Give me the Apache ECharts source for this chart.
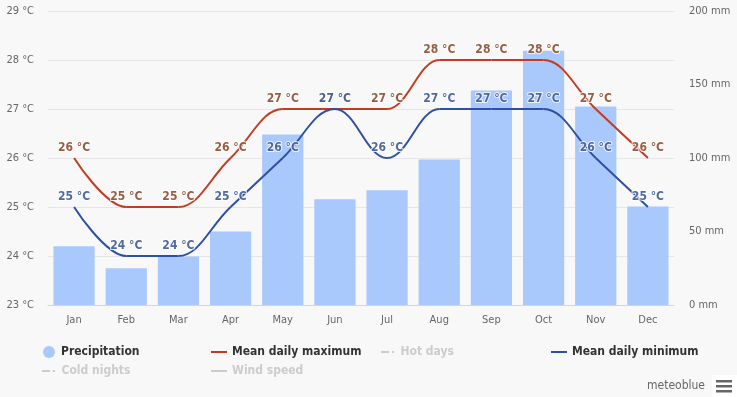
<!DOCTYPE html>
<html>
<head>
<meta charset="utf-8">
<script src="https://cdn.jsdelivr.net/npm/echarts@6/dist/echarts.min.js"></script>
<style>
html, body { margin: 0; padding: 0; background: #f8f8f8; }
#chartContainer { width: 737px; height: 397px; }
</style>
</head>
<body>
<div id="chartContainer"></div>
<script>
var months = ['Jan', 'Feb', 'Mar', 'Apr', 'May', 'Jun', 'Jul', 'Aug', 'Sep', 'Oct', 'Nov', 'Dec'];
var precipitation = [40, 25, 33, 50, 116, 72, 78, 99, 146, 173, 135, 67];
var maxTemp = [26, 25, 25, 26, 27, 27, 27, 28, 28, 28, 27, 26];
var minTemp = [25, 24, 24, 25, 26, 27, 26, 27, 27, 27, 26, 25];

var FONT = '"DejaVu Sans Condensed", "DejaVu Sans", sans-serif';
var RED = '#c23b22', BLUE = '#2d50a5';

// highcharts-like spline control points (no overshoot on flat parts)
function ctrl(p, i) {
	var x = p[i][0], y = p[i][1];
	if (i === 0 || i === p.length - 1) {
		return { lx: x, ly: y, rx: x, ry: y };
	}
	var s = 1.5, d = s + 1;
	var px = p[i - 1][0], py = p[i - 1][1], nx = p[i + 1][0], ny = p[i + 1][1];
	var lx = (s * x + px) / d, ly = (s * y + py) / d;
	var rx = (s * x + nx) / d, ry = (s * y + ny) / d;
	var c = 0;
	if (rx !== lx) {
		c = ((ry - ly) * (rx - x)) / (rx - lx) + y - ry;
	}
	ly += c; ry += c;
	if (ly > py && ly > y) { ly = Math.max(py, y); ry = 2 * y - ly; }
	else if (ly < py && ly < y) { ly = Math.min(py, y); ry = 2 * y - ly; }
	if (ry > ny && ry > y) { ry = Math.max(ny, y); ly = 2 * y - ry; }
	else if (ry < ny && ry < y) { ry = Math.min(ny, y); ly = 2 * y - ry; }
	return { lx: lx, ly: ly, rx: rx, ry: ry };
}

function splineRender(vals, color) {
	return function(params, api) {
		var i = params.dataIndex;
		if (i === 0) return;
		var p = vals.map(function(v, k) { return api.coord([k, v]); });
		var a = ctrl(p, i - 1), b = ctrl(p, i);
		return {
			type: 'bezierCurve',
			shape: {
				x1: p[i - 1][0], y1: p[i - 1][1], x2: p[i][0], y2: p[i][1],
				cpx1: a.rx, cpy1: a.ry, cpx2: b.lx, cpy2: b.ly
			},
			style: { stroke: color, lineWidth: 2, fill: 'none' }
		};
	};
}

function labelSeries(vals, color) {
	return {
		type: 'scatter',
		data: vals,
		symbolSize: 1,
		itemStyle: { color: 'rgba(0,0,0,0)' },
		z: 5,
		silent: true,
		label: {
			show: true,
			position: 'top',
			distance: 4,
			formatter: '{c} °C',
			color: color,
			fontFamily: FONT,
			fontWeight: 'bold',
			fontSize: 12,
			textBorderColor: '#fff',
			textBorderWidth: 2
		}
	};
}

function legendAt(name, left, top, icon, selected) {
	var lg = {
		data: [name],
		left: left,
		top: top,
		padding: 0,
		orient: 'horizontal',
		itemWidth: 16,
		itemHeight: 2,
		icon: icon,
		inactiveColor: '#cccccc',
		textStyle: { fontFamily: FONT, fontWeight: 'bold', fontSize: 12, color: '#333' }
	};
	if (selected === false) {
		lg.selected = {};
		lg.selected[name] = false;
	}
	return lg;
}

var dashDot = 'path://M0,0H8V2H0Z M11,0H13V2H11Z';

var precipLegend = legendAt('Precipitation', 43, 346, 'circle');
precipLegend.itemWidth = 14;
precipLegend.itemHeight = 12;

var option = {
	backgroundColor: '#f8f8f8',
	animation: false,
	grid: { left: 48, right: 63, top: 11, bottom: 92 },
	legend: [
		precipLegend,
		legendAt('Mean daily maximum', 211, 346, 'rect'),
		legendAt('Hot days', 381, 346, dashDot, false),
		legendAt('Mean daily minimum', 551, 346, 'rect'),
		legendAt('Cold nights', 42, 365, dashDot, false),
		legendAt('Wind speed', 211, 365, 'rect', false)
	],
	xAxis: {
		type: 'category',
		data: months,
		axisLine: { lineStyle: { color: '#ccd6eb' } },
		axisTick: { show: false },
		axisLabel: { color: '#666', fontFamily: FONT, fontSize: 11, margin: 10 }
	},
	yAxis: [{
		type: 'value',
		min: 23,
		max: 29,
		interval: 1,
		axisLabel: { formatter: '{value} °C', color: '#666', fontFamily: FONT, fontSize: 11, margin: 14 },
		splitLine: { lineStyle: { color: '#e6e6e6' } }
	}, {
		type: 'value',
		min: 0,
		max: 200,
		interval: 50,
		axisLabel: { formatter: '{value} mm', color: '#666', fontFamily: FONT, fontSize: 11, margin: 15 },
		splitLine: { show: false }
	}],
	series: [{
		name: 'Precipitation',
		type: 'bar',
		yAxisIndex: 1,
		data: precipitation,
		barCategoryGap: '21%',
		itemStyle: { color: '#a9c8fb' }
	}, {
		name: 'Mean daily maximum',
		type: 'custom',
		data: maxTemp.map(function(v, k) { return [k, v]; }),
		encode: { x: 0, y: 1 },
		itemStyle: { color: RED },
		renderItem: splineRender(maxTemp, RED),
		z: 3
	}, {
		name: 'Mean daily minimum',
		type: 'custom',
		data: minTemp.map(function(v, k) { return [k, v]; }),
		encode: { x: 0, y: 1 },
		itemStyle: { color: BLUE },
		renderItem: splineRender(minTemp, BLUE),
		z: 3
	},
	labelSeries(maxTemp, '#7e3313'),
	labelSeries(minTemp, '#24438a'),
	{ name: 'Hot days', type: 'line', data: [], itemStyle: { color: '#cc4444' } },
	{ name: 'Cold nights', type: 'line', data: [], itemStyle: { color: '#4444cc' } },
	{ name: 'Wind speed', type: 'line', data: [], itemStyle: { color: '#888888' } }
	],
	graphic: [{
		type: 'text',
		left: 647,
		top: 380,
		style: { text: 'meteoblue', fill: '#666', font: '12px ' + FONT }
	}, {
		type: 'group',
		left: 712,
		top: 375,
		children: [
			{ type: 'rect', shape: { x: 0, y: 0, width: 25, height: 22 }, style: { fill: '#fff' } },
			{ type: 'rect', shape: { x: 4, y: 5, width: 16, height: 2.5 }, style: { fill: '#666' } },
			{ type: 'rect', shape: { x: 4, y: 10, width: 16, height: 2.5 }, style: { fill: '#666' } },
			{ type: 'rect', shape: { x: 4, y: 15, width: 16, height: 2.5 }, style: { fill: '#666' } }
		]
	}]
};

var chartContainer = echarts.init(document.getElementById('chartContainer'));
chartContainer.setOption(option);
</script>
</body>
</html>
